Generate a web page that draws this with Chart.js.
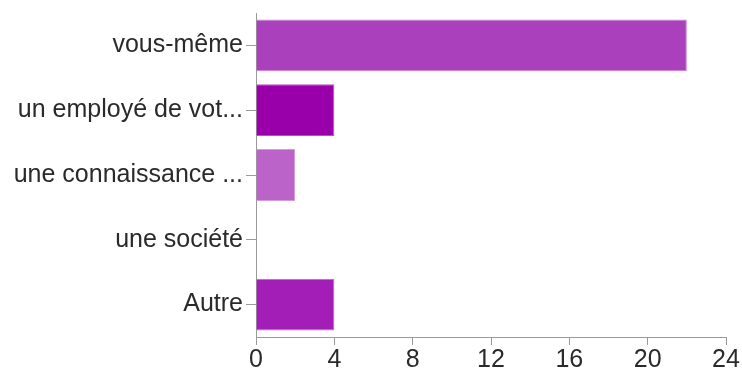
<!DOCTYPE html>
<html>
<head>
<meta charset="utf-8">
<script src="https://cdn.jsdelivr.net/npm/chart.js@4/dist/chart.umd.min.js"></script>
<style>
	html, body { margin: 0; padding: 0; background: #fff; }
	#wrap { width: 742px; height: 370px; }
</style>
</head>
<body>
<div id="wrap"><canvas id="chart"></canvas></div>
<script>
const categories = ['vous-même', 'un employé de vot...', 'une connaissance ...', 'une société', 'Autre'];
const counts = [22, 4, 2, 0, 4];
const barColors = ['#ab40bd', '#9900a9', '#bb63c9', '#a720b7', '#a31eb6'];
const barBorders = ['#c77fd3', '#b84fc4', '#d49ad9', '#c163cd', '#c163cd'];
const xTicks = [0, 4, 8, 12, 16, 20, 24];

const axisColor = '#9a9a9a';
const labelFont = { family: 'Liberation Sans, Arial, sans-serif', size: 25 };

new Chart(document.getElementById('chart'), {
	type: 'bar',
	data: {
		labels: categories,
		datasets: [{
			data: counts,
			backgroundColor: barColors,
			borderColor: barBorders,
			borderWidth: 1,
			categoryPercentage: 0.8,
			barPercentage: 1.0
		}]
	},
	options: {
		indexAxis: 'y',
		responsive: true,
		maintainAspectRatio: false,
		animation: false,
		layout: {
			padding: { top: 13, right: 16, bottom: 0, left: 0 }
		},
		plugins: {
			legend: { display: false },
			tooltip: { enabled: false }
		},
		scales: {
			x: {
				min: 0,
				max: 24,
				afterBuildTicks: function (scale) {
					scale.ticks = xTicks.map((v) => ({ value: v }));
				},
				afterFit: function (scale) {
					scale.height = 33;
				},
				grid: {
					drawOnChartArea: false,
					drawTicks: true,
					tickLength: 8,
					color: axisColor
				},
				border: { color: axisColor, width: 1 },
				ticks: {
					color: '#2a2a2a',
					font: labelFont,
					padding: 0,
					maxRotation: 0
				}
			},
			y: {
				afterFit: function (scale) {
					scale.width = 256;
					scale.paddingTop = 0;
					scale.paddingBottom = 0;
				},
				grid: {
					offset: false,
					drawOnChartArea: false,
					drawTicks: true,
					tickLength: 10,
					color: axisColor
				},
				border: { color: axisColor, width: 1 },
				ticks: {
					color: '#2a2a2a',
					font: labelFont,
					padding: 3
				}
			}
		}
	}
});
</script>
</body>
</html>
